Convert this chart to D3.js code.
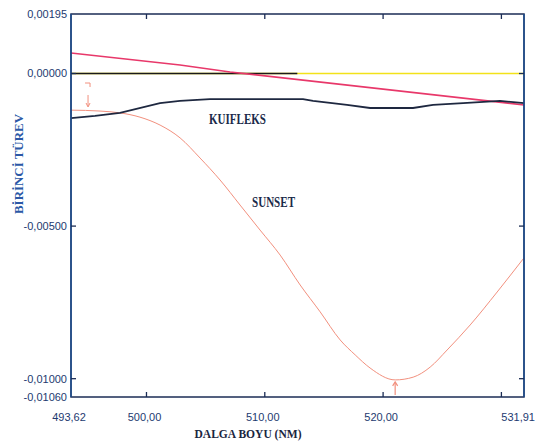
<!DOCTYPE html>
<html>
<head>
<meta charset="utf-8">
<script src="https://cdn.jsdelivr.net/npm/d3@7"></script>
<style>
  body { margin: 0; background: #fff; }
  svg { display: block; }
</style>
</head>
<body>
<svg id="chart" width="536" height="443"></svg>
<script>
// wavelength (nm) / first derivative values
var sunsetNm  = [493.62, 496.07, 497.76, 499.45, 501.15, 502.84, 504.53, 506.22, 507.91, 509.60, 511.30, 512.99, 514.68, 516.37, 517.64, 518.90, 521.02, 522.54, 523.98, 525.41, 527.36, 529.64, 531.91];
var sunsetVal = [-0.00120, -0.00123, -0.00129, -0.00143, -0.00169, -0.00211, -0.00277, -0.00349, -0.00431, -0.00513, -0.00595, -0.00693, -0.00781, -0.00873, -0.00922, -0.00965, -0.01004, -0.00995, -0.00962, -0.00906, -0.00824, -0.00716, -0.00604];

var kuiNm  = [493.62, 495.65, 497.76, 501.14, 502.83, 505.37, 509.34, 513.23, 514.08, 516.95, 518.90, 522.53, 524.22, 526.76, 529.88, 531.91];
var kuiVal = [-0.00146, -0.00139, -0.00129, -0.00097, -0.00090, -0.00084, -0.00084, -0.00084, -0.00090, -0.00103, -0.00113, -0.00113, -0.00103, -0.00097, -0.00090, -0.00097];

var pinkNm  = [493.62, 502.84, 507.07, 531.91];
var pinkVal = [0.00067, 0.00028, 0.00005, -0.00103];

var zeroNm  = [493.62, 531.91];   // yellow baseline
var blackNm = [493.62, 512.75];   // black baseline part

var yTicks = [0.00195, 0, -0.005, -0.01, -0.0106];
var yTickLabels = ["0,00195", "0,00000", "-0,00500", "-0,01000", "-0,01060"];
var xTicks = [493.62, 500, 510, 520, 531.91];
var xTickLabels = ["493,62", "500,00", "510,00", "520,00", "531,91"];
var innerTicks = [500, 510, 520, 530];
var markerNm = [495.06, 521.02];

var svg = d3.select("#chart");
var pLeft = 71, pRight = 524, pTop = 14, pBottom = 397;

var x = d3.scaleLinear().domain([493.62, 531.91]).range([pLeft, pRight]);
var y = d3.scaleLinear().domain([-0.0106, 0.00195]).range([pBottom, pTop]);

function pairs(a, b) { return a.map(function(d, i) { return [d, b[i]]; }); }
var line = d3.line().x(function(d) { return x(d[0]); }).y(function(d) { return y(d[1]); });
var smooth = d3.line().curve(d3.curveMonotoneX).x(function(d) { return x(d[0]); }).y(function(d) { return y(d[1]); });

var frameColor = "#1b2c55";
var labelColor = "#1d3a70";
var salmon = "#f2907e";

// plot lines
svg.append("path").attr("d", line(zeroNm.map(function(d) { return [d, 0]; })))
  .attr("fill", "none").attr("stroke", "#f2e21a").attr("stroke-width", 1.5);
svg.append("path").attr("d", line(blackNm.map(function(d) { return [d, 0]; })))
  .attr("fill", "none").attr("stroke", "#1a1a1a").attr("stroke-width", 1.6);
svg.append("path").attr("d", smooth(pairs(sunsetNm, sunsetVal)))
  .attr("fill", "none").attr("stroke", salmon).attr("stroke-width", 1);
svg.append("path").attr("d", line(pairs(pinkNm, pinkVal)))
  .attr("fill", "none").attr("stroke", "#e8386a").attr("stroke-width", 1.6);
svg.append("path").attr("d", line(pairs(kuiNm, kuiVal)))
  .attr("fill", "none").attr("stroke", "#1e2840").attr("stroke-width", 1.8);

// peak markers on sunset curve
var m0 = x(markerNm[0]);
svg.append("path").attr("d", "M" + (m0 - 3) + ",83H" + (m0 + 2) + "V87")
  .attr("fill", "none").attr("stroke", salmon).attr("stroke-width", 1);
svg.append("line").attr("x1", m0).attr("x2", m0).attr("y1", 95).attr("y2", 106)
  .attr("stroke", salmon).attr("stroke-width", 1);
svg.append("path").attr("d", "M" + (m0 - 2) + ",103L" + m0 + ",107L" + (m0 + 2) + ",103")
  .attr("fill", "none").attr("stroke", salmon).attr("stroke-width", 1);
var m1 = x(markerNm[1]), mY = y(-0.01004);
svg.append("line").attr("x1", m1).attr("x2", m1).attr("y1", mY + 2).attr("y2", mY + 15)
  .attr("stroke", salmon).attr("stroke-width", 1.2);
svg.append("path").attr("d", "M" + (m1 - 2.5) + "," + (mY + 6) + "L" + m1 + "," + (mY + 2) + "L" + (m1 + 2.5) + "," + (mY + 6))
  .attr("fill", "none").attr("stroke", salmon).attr("stroke-width", 1.2);

// frame
svg.append("rect").attr("x", pLeft).attr("y", pTop).attr("width", pRight - pLeft).attr("height", pBottom - pTop)
  .attr("fill", "none").attr("stroke", frameColor).attr("stroke-width", 1.5);
svg.append("line").attr("x1", pLeft).attr("x2", pLeft).attr("y1", pTop).attr("y2", pBottom)
  .attr("stroke", "#1f4f8f").attr("stroke-width", 1.5);
svg.append("line").attr("x1", pRight).attr("x2", pRight).attr("y1", pTop).attr("y2", pBottom)
  .attr("stroke", "#1f4f8f").attr("stroke-width", 1.5);

// inner ticks
innerTicks.forEach(function(t) {
  svg.append("line").attr("x1", x(t)).attr("x2", x(t)).attr("y1", pBottom).attr("y2", pBottom - 5)
    .attr("stroke", frameColor).attr("stroke-width", 1.3);
  svg.append("line").attr("x1", x(t)).attr("x2", x(t)).attr("y1", pTop).attr("y2", pTop + 5)
    .attr("stroke", frameColor).attr("stroke-width", 1.3);
});
[0, -0.005, -0.01].forEach(function(t) {
  svg.append("line").attr("x1", pLeft).attr("x2", pLeft + 5).attr("y1", y(t)).attr("y2", y(t))
    .attr("stroke", frameColor).attr("stroke-width", 1.3);
  svg.append("line").attr("x1", pRight).attr("x2", pRight - 5).attr("y1", y(t)).attr("y2", y(t))
    .attr("stroke", frameColor).attr("stroke-width", 1.3);
});

// tick labels
svg.selectAll(".ylab").data(yTicks).enter().append("text")
  .attr("x", 67).attr("y", function(d) { return y(d); }).attr("dy", "0.35em")
  .attr("text-anchor", "end").attr("font-family", "Liberation Sans, Arial, sans-serif")
  .attr("font-size", 11).attr("fill", labelColor)
  .text(function(d, i) { return yTickLabels[i]; });

svg.selectAll(".xlab").data(xTicks).enter().append("text")
  .attr("x", function(d, i) { return i == 4 ? 535 : x(d) - 2; }).attr("y", 421)
  .attr("text-anchor", function(d, i) { return i == 4 ? "end" : "middle"; })
  .attr("font-family", "Liberation Sans, Arial, sans-serif")
  .attr("font-size", 11).attr("fill", labelColor)
  .text(function(d, i) { return xTickLabels[i]; });

// titles
svg.append("text").attr("x", 248).attr("y", 438).attr("text-anchor", "middle")
  .attr("font-family", "Liberation Serif, Times New Roman, serif").attr("font-size", 13).attr("font-weight", "bold")
  .attr("textLength", 107).attr("lengthAdjust", "spacingAndGlyphs")
  .attr("fill", "#1a2540").text("DALGA BOYU (NM)");

svg.append("text").attr("transform", "translate(23,164) rotate(-90)").attr("text-anchor", "middle")
  .attr("font-family", "Liberation Serif, Times New Roman, serif").attr("font-size", 12).attr("font-weight", "bold")
  .attr("textLength", 100).attr("lengthAdjust", "spacingAndGlyphs")
  .attr("fill", "#2b58a6").text("BİRİNCİ TÜREV");

svg.append("text").attr("x", 209).attr("y", 124)
  .attr("font-family", "Liberation Serif, Times New Roman, serif").attr("font-size", 14).attr("font-weight", "bold")
  .attr("textLength", 57).attr("lengthAdjust", "spacingAndGlyphs")
  .attr("fill", "#1a2a4a").text("KUIFLEKS");

svg.append("text").attr("x", 252).attr("y", 207)
  .attr("font-family", "Liberation Serif, Times New Roman, serif").attr("font-size", 14).attr("font-weight", "bold")
  .attr("textLength", 43).attr("lengthAdjust", "spacingAndGlyphs")
  .attr("fill", "#1a2a4a").text("SUNSET");
</script>
</body>
</html>
